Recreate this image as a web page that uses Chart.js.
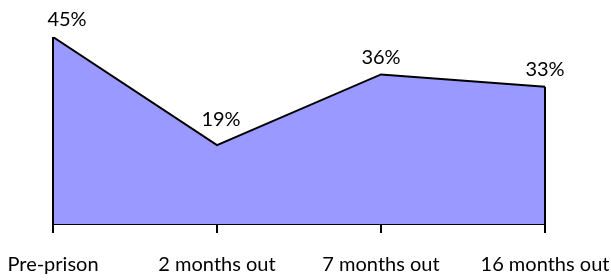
<!DOCTYPE html>
<html>
<head>
<meta charset="utf-8">
<script src="https://cdn.jsdelivr.net/npm/chart.js@4"></script>
<style>
  html, body { margin: 0; padding: 0; background: #fff; }
  #wrap { width: 611px; height: 280px; }
</style>
</head>
<body>
<div id="wrap"><canvas id="chart"></canvas></div>
<script>
const categories = ['Pre-prison', '2 months out', '7 months out', '16 months out'];
const values = [45, 19, 36, 33];

const fontFamily = "'Lato', 'Open Sans', sans-serif";

// labels above each point + side edges of the area
const extras = {
    id: 'extras',
    afterDatasetsDraw(chart) {
        const ctx = chart.ctx;
        const meta = chart.getDatasetMeta(0);
        const y = chart.scales.y;
        ctx.save();
        ctx.strokeStyle = '#000';
        ctx.lineWidth = 2;
        [0, values.length - 1].forEach(i => {
            const p = meta.data[i];
            ctx.beginPath();
            ctx.moveTo(p.x, y.getPixelForValue(0));
            ctx.lineTo(p.x, p.y);
            ctx.stroke();
        });
        ctx.fillStyle = '#000';
        ctx.font = '20px ' + fontFamily;
        ctx.textAlign = 'center';
        ctx.textBaseline = 'middle';
        meta.data.forEach((p, i) => {
            const dx = i === 0 ? 14 : (i === 1 ? 4 : 0);
            const dy = i === 1 ? 25 : 17;
            ctx.fillText(values[i] + '%', p.x + dx, p.y - dy);
        });
        ctx.restore();
    }
};

new Chart(document.getElementById('chart'), {
    type: 'line',
    data: {
        labels: categories,
        datasets: [{
            data: values,
            fill: 'origin',
            backgroundColor: '#9999ff',
            borderColor: '#000',
            borderWidth: 2,
            pointRadius: 0,
            tension: 0
        }]
    },
    options: {
        responsive: true,
        maintainAspectRatio: false,
        animation: false,
        layout: { autoPadding: false, padding: { top: 37, left: 53, right: 66, bottom: 3 } },
        plugins: {
            legend: { display: false },
            tooltip: { enabled: false }
        },
        scales: {
            x: {
                offset: false,
                grid: { display: true, drawOnChartArea: false, drawTicks: true, tickLength: 9, color: '#000', lineWidth: 2 },
                border: { display: true, color: '#000', width: 2 },
                ticks: { color: '#000', font: { family: fontFamily, size: 20 }, padding: 20, maxRotation: 0, autoSkip: false },
                afterFit(scale) {
                    scale.height = 53;
                    scale.paddingLeft = 0;
                    scale.paddingRight = 0;
                }
            },
            y: {
                display: false,
                min: 0,
                max: 45
            }
        }
    },
    plugins: [extras]
});
</script>
</body>
</html>
